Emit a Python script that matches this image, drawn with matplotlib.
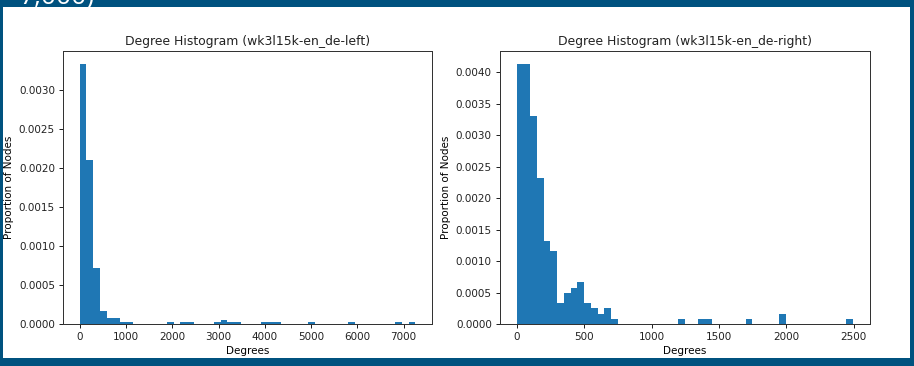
import numpy as np
import matplotlib
matplotlib.use("Agg")
import matplotlib.pyplot as plt
from matplotlib.patches import Rectangle

# ---- data (proportion of nodes per bin) ----
left_title = "Degree Histogram (wk3l15k-en_de-left)"
right_title = "Degree Histogram (wk3l15k-en_de-right)"
x_label = "Degrees"
y_label = "Proportion of Nodes"

left_max_degree = 7250
left_heights = [0.003330, 0.002104, 0.000722, 0.000170, 0.000072, 0.000072, 0.000024, 0.000024,
                0, 0, 0, 0, 0, 0.000024, 0, 0.000024, 0.000024, 0, 0, 0,
                0.000024, 0.000048, 0.000024, 0.000024, 0, 0, 0, 0.000024, 0.000024, 0.000024,
                0, 0, 0, 0, 0.000024, 0, 0, 0, 0, 0,
                0.000024, 0, 0, 0, 0, 0, 0, 0.000024, 0, 0.000024]

right_max_degree = 2495
right_heights = [0.004130, 0.004130, 0.003300, 0.002320, 0.001320, 0.001157, 0.000330, 0.000497,
                 0.000578, 0.000661, 0.000330, 0.000248, 0.000165, 0.000248, 0.0000826, 0, 0, 0, 0, 0,
                 0, 0, 0, 0, 0.0000826, 0, 0, 0.0000826, 0.0000826, 0,
                 0, 0, 0, 0, 0.0000826, 0, 0, 0, 0, 0.000165,
                 0, 0, 0, 0, 0, 0, 0, 0, 0, 0.0000826]

slide_title_tail = "7,000)"

DPI = 90
plt.rcParams.update({
    "axes.titlesize": 9.9,
    "axes.labelsize": 8.3,
    "xtick.labelsize": 8.3,
    "ytick.labelsize": 8.3,
    "axes.titlepad": 5,
    "axes.labelpad": 3.5,
    "xtick.major.size": 3,
    "ytick.major.size": 3,
    "axes.linewidth": 0.8,
    "axes.edgecolor": "#333333",
    "text.color": "#222222",
    "xtick.color": "#222222",
    "ytick.color": "#222222",
})
fig = plt.figure(figsize=(914 / DPI, 366 / DPI), dpi=DPI)
W, H = 914, 366


def draw(ax, heights, max_deg, title):
    n = len(heights)
    edges = np.linspace(0, max_deg, n + 1)
    centers = (edges[:-1] + edges[1:]) / 2
    ax.hist(centers, bins=edges, weights=heights, color="#1f77b4")
    ax.set_title(title)
    ax.set_xlabel(x_label)
    ax.set_ylabel(y_label)


ax1 = fig.add_axes([63 / W, (H - 324) / H, 369 / W, 273 / H])
draw(ax1, left_heights, left_max_degree, left_title)
ax1.set_xticks(np.arange(0, 8000, 1000))

ax2 = fig.add_axes([500 / W, (H - 324) / H, 370 / W, 273 / H])
draw(ax2, right_heights, right_max_degree, right_title)
ax2.set_xticks(np.arange(0, 3000, 500))

# slide frame
frame_color = "#00527f"
for (x0, y0, w, h) in [(0, H - 7, W, 7), (0, 0, 3, H), (W - 4, 0, 4, H), (0, 0, W, 8)]:
    fig.add_artist(Rectangle((x0 / W, y0 / H), w / W, h / H, transform=fig.transFigure,
                             facecolor=frame_color, edgecolor="none", zorder=10))

fig.text(20 / W, 1 - 4 / H, slide_title_tail, color="white", fontsize=21,
         family="Open Sans", va="baseline", ha="left", zorder=11)

fig.savefig("out.png", dpi=DPI)
